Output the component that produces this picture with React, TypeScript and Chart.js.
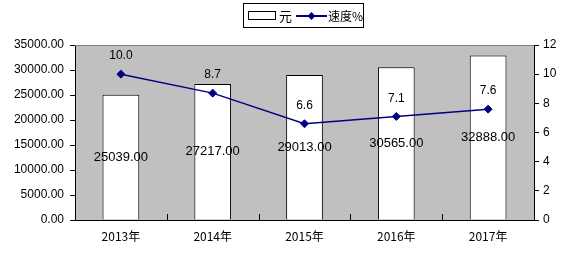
import React, { useEffect, useRef } from "react";
import { Chart, registerables } from "chart.js";

Chart.register(...registerables);

const categories = ["2013年", "2014年", "2015年", "2016年", "2017年"];
const incomeValues = [25039.0, 27217.0, 29013.0, 30565.0, 32888.0];
const growthValues = [10.0, 8.7, 6.6, 7.1, 7.6];
const barLabel = "元";
const lineLabel = "速度%";

const FONT = "'Liberation Sans', Arial, sans-serif";
const CJK = "'Noto Sans CJK SC', 'Liberation Sans', sans-serif";

const decorPlugin = {
  id: "decor",
  beforeDraw(chart: any) {
    const { ctx, chartArea } = chart;
    ctx.save();
    ctx.fillStyle = "#c0c0c0";
    ctx.fillRect(chartArea.left, chartArea.top, chartArea.right - chartArea.left, chartArea.bottom - chartArea.top);
    ctx.restore();
  },
  afterDatasetsDraw(chart: any) {
    const { ctx, chartArea } = chart;
    ctx.save();
    // top border gray
    ctx.strokeStyle = "#808080";
    ctx.lineWidth = 1;
    ctx.beginPath();
    ctx.moveTo(chartArea.left, chartArea.top + 0.5);
    ctx.lineTo(chartArea.right, chartArea.top + 0.5);
    ctx.stroke();
    // x ticks inward at category boundaries
    const xs = chart.scales.x;
    ctx.strokeStyle = "#000";
    const n = categories.length;
    const w = (chartArea.right - chartArea.left) / n;
    for (let i = 1; i < n; i++) {
      const x = Math.round(chartArea.left + w * i) + 0.5;
      ctx.beginPath();
      ctx.moveTo(x, chartArea.bottom);
      ctx.lineTo(x, chartArea.bottom - 6);
      ctx.stroke();
    }
    void xs;
    // data labels
    const barMeta = chart.getDatasetMeta(0);
    ctx.fillStyle = "#000";
    ctx.textAlign = "center";
    ctx.textBaseline = "middle";
    ctx.font = `13px ${FONT}`;
    barMeta.data.forEach((el: any, i: number) => {
      const y = (el.y + el.base) / 2;
      ctx.fillText(incomeValues[i].toFixed(2), el.x, y);
    });
    const lineMeta = chart.getDatasetMeta(1);
    ctx.font = `12px ${FONT}`;
    lineMeta.data.forEach((el: any, i: number) => {
      ctx.fillText(growthValues[i].toFixed(1), el.x, el.y - 18);
    });
    // legend
    const lx = 243, ly = 3, lw = 120, lh = 24;
    ctx.fillStyle = "#fff";
    ctx.fillRect(lx, ly, lw, lh);
    ctx.strokeStyle = "#000";
    ctx.lineWidth = 1;
    ctx.strokeRect(lx + 0.5, ly + 0.5, lw, lh);
    ctx.fillStyle = "#fff";
    ctx.fillRect(248, 11, 28, 8);
    ctx.strokeRect(248.5, 11.5, 27, 8);
    ctx.fillStyle = "#000";
    ctx.textAlign = "left";
    ctx.font = `13px ${CJK}`;
    ctx.fillText(barLabel, 279, 16);
    ctx.strokeStyle = "#000080";
    ctx.lineWidth = 2;
    ctx.beginPath();
    ctx.moveTo(296, 16);
    ctx.lineTo(327, 16);
    ctx.stroke();
    ctx.fillStyle = "#000080";
    ctx.beginPath();
    ctx.moveTo(311.5, 12);
    ctx.lineTo(315.5, 16);
    ctx.lineTo(311.5, 20);
    ctx.lineTo(307.5, 16);
    ctx.closePath();
    ctx.fill();
    ctx.fillStyle = "#000";
    ctx.font = `12px ${CJK}`;
    ctx.fillText(lineLabel, 328, 16);
    ctx.restore();
  },
};

export default function App() {
  const ref = useRef<HTMLCanvasElement>(null);
  useEffect(() => {
    document.body.style.margin = "0";
    const chart = new Chart(ref.current!, {
      type: "bar",
      data: {
        labels: categories,
        datasets: [
          {
            type: "bar",
            label: barLabel,
            data: incomeValues,
            backgroundColor: "#ffffff",
            borderColor: "#000000",
            borderWidth: 1,
            barPercentage: 0.8,
            categoryPercentage: 0.5,
            yAxisID: "y",
            order: 2,
          },
          {
            type: "line",
            label: lineLabel,
            data: growthValues,
            borderColor: "#000080",
            backgroundColor: "#000080",
            borderWidth: 1.5,
            pointStyle: "rectRot",
            pointRadius: 4,
            pointBorderWidth: 1,
            yAxisID: "y1",
            order: 1,
          } as any,
        ],
      },
      options: {
        animation: false,
        responsive: false,
        maintainAspectRatio: false,
        layout: { padding: { top: 45, left: 0, right: 0, bottom: 0 } },
        plugins: { legend: { display: false }, tooltip: { enabled: false } },
        scales: {
          x: {
            grid: { display: false, drawTicks: false },
            border: { display: true, color: "#000", width: 1 },
            ticks: { color: "#000", font: { family: CJK, size: 12 }, padding: 9 },
            afterFit(s: any) { s.height = 36; },
          },
          y: {
            position: "left",
            min: 0,
            max: 35000,
            ticks: {
              stepSize: 5000,
              color: "#000",
              font: { family: FONT, size: 12 },
              padding: 6,
              callback: (v: any) => Number(v).toFixed(2),
            },
            grid: { drawOnChartArea: false, drawTicks: true, tickLength: 5, color: "#000" },
            border: { display: true, color: "#000" },
            afterFit(s: any) { s.width = 75; },
          },
          y1: {
            position: "right",
            min: 0,
            max: 12,
            ticks: { stepSize: 2, color: "#000", font: { family: FONT, size: 12 }, padding: 4 },
            grid: { drawOnChartArea: false, drawTicks: true, tickLength: 5, color: "#000" },
            border: { display: true, color: "#000" },
            afterFit(s: any) { s.width = 36; },
          },
        },
      },
      plugins: [decorPlugin],
    });
    return () => chart.destroy();
  }, []);
  return (
    <div style={{ position: "fixed", left: 0, top: 0, width: 570, height: 256, background: "#fff" }}>
      <canvas ref={ref} width={570} height={256} style={{ width: 570, height: 256 }} />
    </div>
  );
}
